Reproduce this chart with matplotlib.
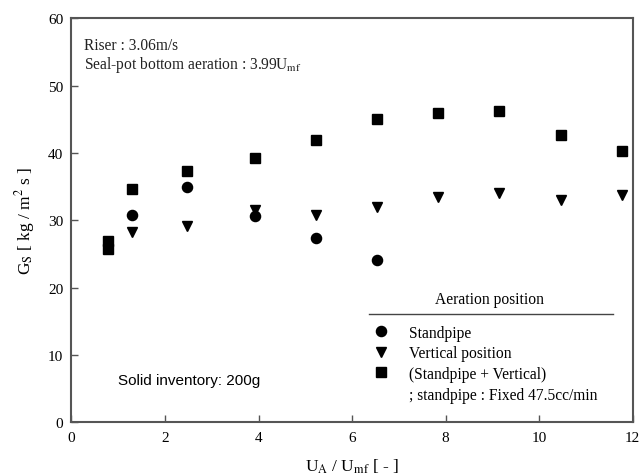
import matplotlib
matplotlib.use("Agg")
import matplotlib.pyplot as plt
from matplotlib.lines import Line2D

plt.rcParams['font.family'] = ['Liberation Serif', 'DejaVu Serif']
plt.rcParams['mathtext.fontset'] = 'stix'

# Data
standpipe_x = [1.30, 2.48, 3.92, 5.23, 6.54]
standpipe_y = [30.8, 35.0, 30.7, 27.3, 24.1]

vertical_x = [1.30, 2.48, 3.92, 5.23, 6.54, 7.84, 9.15, 10.46, 11.76]
vertical_y = [28.3, 29.2, 31.5, 30.8, 31.9, 33.4, 34.0, 33.0, 33.8]

combined_x = [0.79, 0.79, 1.30, 2.48, 3.92, 5.23, 6.54, 7.84, 9.15, 10.46, 11.76]
combined_y = [26.9, 25.8, 34.6, 37.3, 39.3, 41.9, 45.0, 45.9, 46.3, 42.7, 40.3]

labels = ["Standpipe", "Vertical position",
          "(Standpipe + Vertical)", "; standpipe : Fixed 47.5cc/min"]

fig = plt.figure(figsize=(6.4, 4.77), dpi=100)
ax = fig.add_axes([0.1117, 0.1126, 0.877, 0.847])

ms = 6.5
ax.plot(standpipe_x, standpipe_y, 'o', color='black', ms=ms + 0.8, ls='none')
ax.plot(vertical_x, vertical_y, 'v', color='black', ms=ms + 0.5, ls='none')
ax.plot(combined_x, combined_y, 's', color='black', ms=ms, ls='none')

ax.set_xlim(0, 12)
ax.set_ylim(0, 60)
ax.set_xticks([0, 2, 4, 6, 8, 10, 12])
ax.set_yticks([0, 10, 20, 30, 40, 50, 60])
ax.tick_params(direction='in', length=5, width=1, color='#555555',
               labelsize=11, pad=6)
for s in ax.spines.values():
    s.set_color('#555555')
    s.set_linewidth(1.5)

ax.set_xlabel(r"U$_\mathrm{A}$ / U$_\mathrm{mf}$ [ - ]", fontsize=12.5, labelpad=9)
ax.set_ylabel(r"G$_\mathrm{S}$ [ kg / m$^2$ s ]", fontsize=12.5, labelpad=8)

ax.text(0.022, 0.935, "Riser : 3.06m/s", transform=ax.transAxes,
        fontsize=11.2, color='#222222', va='center')
ax.text(0.022, 0.888, r"Seal-pot bottom aeration : 3.99U$_\mathrm{mf}$",
        transform=ax.transAxes, fontsize=11.2, color='#222222', va='center')

ax.text(0.083, 0.105, "Solid inventory: 200g", transform=ax.transAxes,
        fontsize=11, family=['Liberation Sans', 'DejaVu Sans'], va='center')

# Legend title and rule
ax.text(0.745, 0.305, "Aeration position", transform=ax.transAxes,
        fontsize=11.2, ha='center', va='center')
ax.plot([0.53, 0.965], [0.267, 0.267], transform=ax.transAxes,
        color='#444444', lw=1)

handles = [Line2D([], [], marker='o', color='black', ls='none', ms=ms + 0.8),
           Line2D([], [], marker='v', color='black', ls='none', ms=ms + 0.5),
           Line2D([], [], marker='s', color='black', ls='none', ms=ms),
           Line2D([], [], ls='none', marker=None)]
leg = ax.legend(handles, labels, loc='upper left', bbox_to_anchor=(0.538, 0.242),
                frameon=False, fontsize=11.2, handlelength=1.0, handletextpad=1.3,
                labelspacing=0.3, borderaxespad=0, borderpad=0)

fig.savefig("out.png", dpi=100)
